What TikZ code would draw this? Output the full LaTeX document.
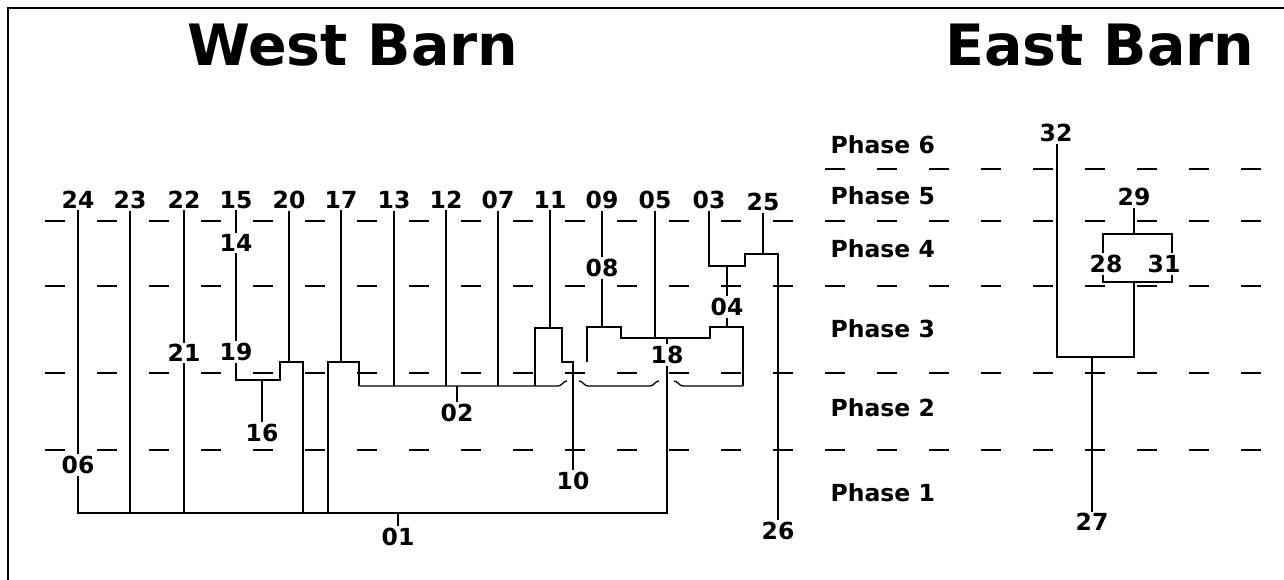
\documentclass[tikz,border=0pt]{standalone}
\usepackage{fontspec}
\setmainfont{DejaVu Sans}
\tikzset{
  num/.style={font=\bfseries\fontsize{23.5}{26}\selectfont, inner sep=1pt},
  phaselbl/.style={font=\bfseries\fontsize{23.5}{26}\selectfont, inner sep=0pt, anchor=west},
  title/.style={font=\bfseries\fontsize{57}{60}\selectfont, inner sep=0pt},
  phase/.style={line width=1.3pt, dash pattern=on 20pt off 32pt},
}
\begin{document}
\begin{tikzpicture}[x=1pt, y=-1pt, line width=1.3pt]
	\useasboundingbox (0,0) rectangle (1284,580);
	\draw[line width=1.5pt] (8,580) -- (8,8) -- (1284,8);
	% titles
	\node[title] (west) at (353,45) {West Barn};
	\node[title] (east) at (1100,45) {East Barn};
	% phase lines
	\foreach \y in {221,286,373,450} { \draw[phase] (45,\y) -- (1284,\y); }
	\draw[phase, dash phase=0pt] (825,169) -- (1284,169);
	\foreach \y/\t in {145/6, 196/5, 249/4, 329/3, 408/2, 493/1} {
		\node[phaselbl] (p\t) at (830,\y) {Phase \t};
	}
	% west barn
	\foreach \x/\t in {78/24, 130/23, 184/22, 236/15, 289/20, 341/17, 394/13, 446/12, 498/07, 550/11, 602/09, 655/05, 709/03} {
		\node[num] (n\t) at (\x,200) {\t};
	}
	\node[num] (n25) at (763,202) {25};
	\node[num] (n14) at (236,243) {14};
	\node[num] (n08) at (602,268) {08};
	\node[num] (n04) at (727,307) {04};
	\node[num] (n21) at (184,353) {21};
	\node[num] (n19) at (236,352) {19};
	\node[num] (n18) at (667,355) {18};
	\node[num] (n02) at (457,413) {02};
	\node[num] (n16) at (262,433) {16};
	\node[num] (n06) at (78,465) {06};
	\node[num] (n10) at (573,481) {10};
	\node[num] (n01) at (398,537) {01};
	\node[num] (n26) at (778,531) {26};
	\coordinate (b01a) at (78,513);
	\coordinate (b01b) at (667,513);
	\coordinate (b02a) at (359,386);
	\coordinate (b02b) at (743,386);
	\coordinate (k1) at (280,380);
	\coordinate (k2) at (303,362);
	\coordinate (k4) at (328,362);
	\coordinate (k5) at (535,386);
	\coordinate (k6) at (562,328);
	\coordinate (t10) at (573,362);
	\coordinate (k7) at (587,362);
	% 01 group
	\draw (n24) -- (n06);
	\draw (n06) -- (b01a) -- (b01b) -- (n18);
	\draw (n01) -- (n01 |- b01a);
	\draw (n23) -- (n23 |- b01a);
	\draw (n22) -- (n21);
	\draw (n21) -- (n21 |- b01a);
	\draw (n15) -- (n14) -- (n19);
	\draw (n19) |- (k1) |- (k2) -- (k2 |- b01a);
	\draw (n20) -- (n20 |- k2);
	\draw (n16) -- (n16 |- k1);
	\draw (n17) -- (n17 |- k4);
	\draw (k4 |- b01a) -- (k4) -| (b02a);
	% 02 group
	\draw (b02a) -- (558,386) to[out=0,in=180] (567,381) (579,381) to[out=0,in=180] (588,386)
		-- (650,386) to[out=0,in=180] (659,381) (674,381) to[out=0,in=180] (683,386) -- (b02b);
	\foreach \t in {13,12,07} { \draw (n\t) -- (n\t |- b02a); }
	\draw (n02) -- (n02 |- b02a);
	\draw (n11) -- (n11 |- k6);
	\draw (k5) |- (k6) |- (t10) -- (n10);
	\draw (n09) -- (n08);
	\draw (n08) -- (n08 |- 0,327);
	\draw (k7) |- (621,327) |- (710,338) |- (743,327) -- (b02b);
	\draw (n05) -- (n05 |- 0,338);
	\draw (n18) -- (n18 |- 0,338);
	\draw (n04) -- (n04 |- 0,327);
	\draw (n04) -- (n04 |- 0,266);
	\draw (n03) |- (745,266) |- (778,254) -- (n26);
	\draw (n25) -- (n25 |- 0,254);
	% east barn
	\node[num] (n32) at (1056,133) {32};
	\node[num] (n29) at (1134,197) {29};
	\node[num] (n28) at (1106,264) {28};
	\node[num] (n31) at (1164,264) {31};
	\node[num] (n27) at (1092,522) {27};
	\coordinate (e28) at (1103,234);
	\coordinate (e31) at (1172,234);
	\coordinate (f28) at (1103,282);
	\coordinate (f31) at (1172,282);
	\coordinate (j32) at (1134,357);
	\draw (n28.north -| e28) -- (e28) -- (e31) -- (n31.north -| e31);
	\draw (n28.south -| f28) -- (f28) -- (f31) -- (n31.south -| f31);
	\draw (n29) -- (n29 |- e28);
	\draw (n32.south -| 1057,0) |- (j32) -- (j32 |- f28);
	\draw (n27) -- (n27 |- j32);
\end{tikzpicture}
\end{document}
